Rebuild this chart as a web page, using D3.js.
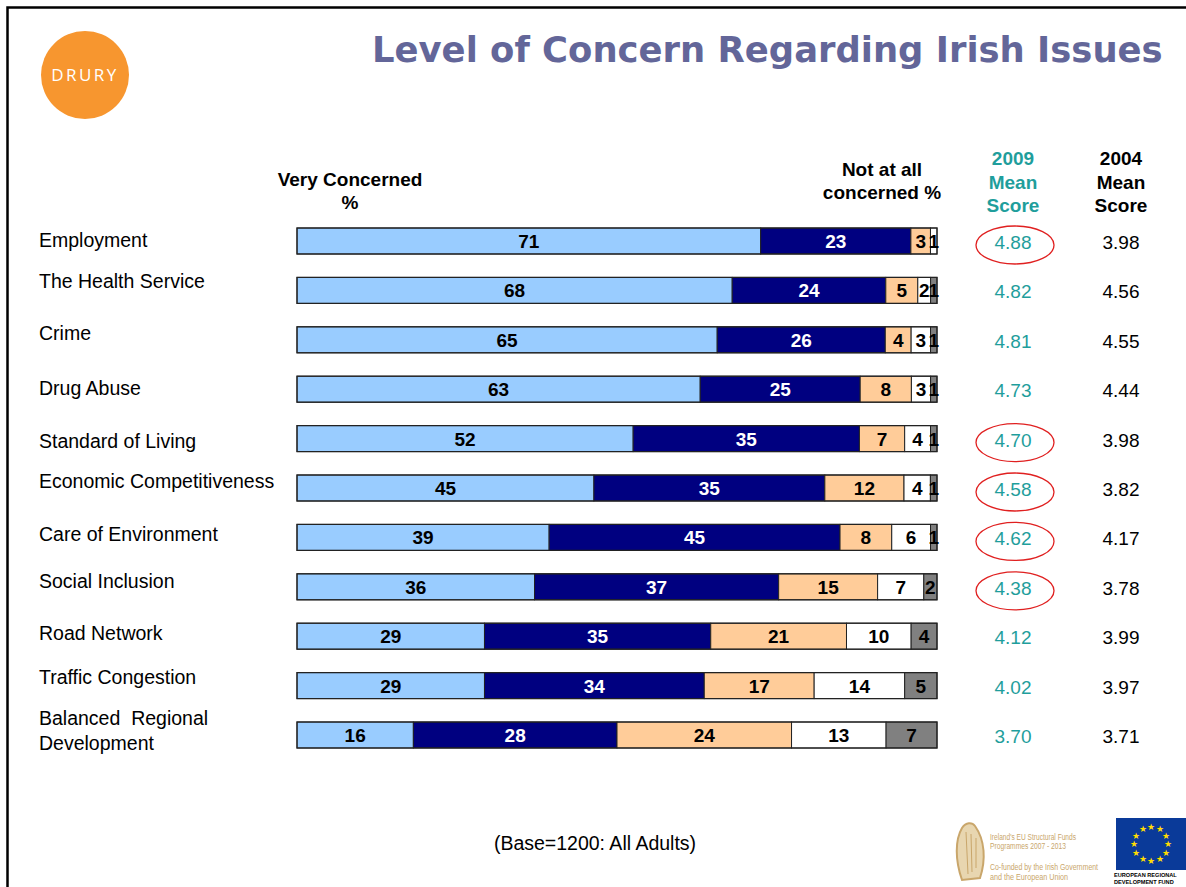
<!DOCTYPE html>
<html><head><meta charset="utf-8">
<script src="https://cdn.jsdelivr.net/npm/d3@7"></script>
<style>
html,body{margin:0;padding:0;background:#fff;}
svg{display:block;}
</style></head>
<body>
<svg id="chart" width="1186" height="887"></svg>
<script>
// ---------- DATA ----------
const categories = ["Employment","The Health Service","Crime","Drug Abuse","Standard of Living",
  "Economic Competitiveness","Care of Environment","Social Inclusion","Road Network",
  "Traffic Congestion","Balanced  Regional|Development"];
const veryConcerned   = [71,68,65,63,52,45,39,36,29,29,16];
const fairlyConcerned = [23,24,26,25,35,35,45,37,35,34,28];
const neutral         = [3,5,4,8,7,12,8,15,21,17,24];
const notVery         = [1,2,3,3,4,4,6,7,10,14,13];
const notAtAll        = [0,1,1,1,1,1,1,2,4,5,7];
const mean2009 = ["4.88","4.82","4.81","4.73","4.70","4.58","4.62","4.38","4.12","4.02","3.70"];
const mean2004 = ["3.98","4.56","4.55","4.44","3.98","3.82","4.17","3.78","3.99","3.97","3.71"];
const circled2009 = [true,false,false,false,true,true,true,true,false,false,false];
const seriesColors = ["#99ccff","#000080","#ffcc99","#ffffff","#808080"];
const labelColors  = ["#000","#fff","#000","#000","#000"];

// ---------- LAYOUT ----------
const svg = d3.select("#chart");
const FONT = "Arial, 'Liberation Sans', sans-serif";
const teal = "#1f9e9c";
// vertical nudges of the category labels relative to their bars (layout only)
const labelShift = [7,-1,1,7,10,1,5,2,5,-1,4];

// page border
svg.append("path").attr("d","M7.5,887 V7.5 H1190").attr("fill","none")
  .attr("stroke","#000").attr("stroke-width",2.5);

// logo
svg.append("circle").attr("cx",85).attr("cy",75).attr("r",44).attr("fill","#f7962f");
svg.append("text").attr("x",85).attr("y",81).attr("text-anchor","middle")
  .attr("font-family","'Open Sans', sans-serif").attr("font-weight",400)
  .attr("font-size",17).attr("letter-spacing",2.5).attr("fill","#fff").text("DRURY");

// title
const title = svg.append("text").attr("x",372).attr("y",62)
  .attr("font-family","Tahoma, 'DejaVu Sans', sans-serif").attr("font-weight","bold")
  .attr("font-size",36).attr("fill","#636699")
  .text("Level of Concern Regarding Irish Issues");
{
  const w = title.node().getComputedTextLength();
  title.attr("font-size", 36*791/w);
}

// scales
const x = d3.scaleLinear().domain([0,1]).range([297,937]);
const y = d3.scalePoint().domain(categories).range([241,735]);
const barH = 26;

// headers
function multiline(xc, lines, y0, dy, color, weight, anchor){
  const t = svg.append("text").attr("font-family",FONT).attr("font-size",19)
    .attr("font-weight",weight).attr("fill",color).attr("text-anchor",anchor||"middle");
  lines.forEach((l,i)=>t.append("tspan").attr("x",xc).attr("y",y0+i*dy).text(l));
  return t;
}
multiline(350,["Very Concerned","%"],186,23,"#000","bold");
multiline(882,["Not at all","concerned %"],176,23,"#000","bold");
multiline(1013,["2009","Mean","Score"],165,23.5,teal,"bold");
multiline(1121,["2004","Mean","Score"],165,23.5,"#000","bold");

// rows
const series = [veryConcerned,fairlyConcerned,neutral,notVery,notAtAll];
categories.forEach((cat,i)=>{
  const vals = series.map(s=>s[i]);
  const total = d3.sum(vals);
  const cy = y(cat);
  const g = svg.append("g");
  let cum = 0;
  const segs = vals.map((v,k)=>{ const s={k,v,x0:cum/total,x1:(cum+v)/total}; cum+=v; return s; });
  g.selectAll("rect").data(segs.filter(s=>s.v>0)).join("rect")
    .attr("x",d=>x(d.x0)).attr("width",d=>x(d.x1)-x(d.x0))
    .attr("y",cy-barH/2).attr("height",barH)
    .attr("fill",d=>seriesColors[d.k]).attr("stroke","#222").attr("stroke-width",1);
  g.append("rect").attr("x",x(0)).attr("width",x(1)-x(0)).attr("y",cy-barH/2).attr("height",barH)
    .attr("fill","none").attr("stroke","#222").attr("stroke-width",1.2);
  g.selectAll("text.v").data(segs.filter(s=>s.v>0)).join("text").attr("class","v")
    .attr("x",d=>(x(d.x0)+x(d.x1))/2).attr("y",cy+7)
    .attr("text-anchor","middle").attr("font-family",FONT).attr("font-weight","bold")
    .attr("font-size",19).attr("fill",d=>labelColors[d.k]).text(d=>d.v);
  // category label
  const parts = cat.split("|");
  const ly = (parts.length>1 ? cy-17 : cy-4) + labelShift[i] + 3;
  const lt = svg.append("text").attr("font-family",FONT).attr("font-size",19.5).attr("fill","#000");
  parts.forEach((p,j)=>lt.append("tspan").attr("x",39).attr("y",ly+j*25).style("white-space","pre").text(p));
  // mean scores
  svg.append("text").attr("x",1013).attr("y",cy+8).attr("text-anchor","middle")
    .attr("font-family",FONT).attr("font-size",19).attr("fill",teal).text(mean2009[i]);
  svg.append("text").attr("x",1121).attr("y",cy+8).attr("text-anchor","middle")
    .attr("font-family",FONT).attr("font-size",19).attr("fill","#000").text(mean2004[i]);
  if(circled2009[i]){
    svg.append("ellipse").attr("cx",1015).attr("cy",cy+4).attr("rx",39).attr("ry",19)
      .attr("fill","none").attr("stroke","#e02020").attr("stroke-width",1.3);
  }
});

// footer
svg.append("text").attr("x",595).attr("y",850).attr("text-anchor","middle")
  .attr("font-family",FONT).attr("font-size",19.5).attr("fill","#000").text("(Base=1200: All Adults)");

// bottom-right logos
const gold = "#c9a66b";
svg.append("path").attr("d","M962,880 C955,860 955,840 962,828 C966,822 972,822 975,826 C985,840 986,860 980,878 Z")
  .attr("fill","#e8d6b0").attr("stroke",gold).attr("stroke-width",2);
svg.append("path").attr("d","M966,832 L968,874 M971,834 L972,872 M976,838 L976,868")
  .attr("stroke",gold).attr("stroke-width",1);
const ftxt = [["Ireland's EU Structural Funds",840,86],["Programmes 2007 - 2013",849,76],
              ["Co-funded by the Irish Government",870,108],["and the European Union",880,78]];
ftxt.forEach(([t,yy,len])=>svg.append("text").attr("x",990).attr("y",yy)
  .attr("font-family","'Liberation Sans Narrow', Arial, sans-serif").attr("font-size",8.5)
  .attr("textLength",len).attr("lengthAdjust","spacingAndGlyphs")
  .attr("fill",gold).text(t));
svg.append("rect").attr("x",1116).attr("y",818).attr("width",80).attr("height",52).attr("fill","#0a3a99");
d3.range(12).forEach(k=>{
  const a = k*Math.PI/6;
  svg.append("text").attr("x",1151+17*Math.sin(a)).attr("y",844-17*Math.cos(a)+3)
    .attr("text-anchor","middle").attr("font-size",9).attr("fill","#ffdd00").text("★");
});
svg.append("text").attr("x",1114).attr("y",877).attr("font-family",FONT).attr("font-weight","bold")
  .attr("font-size",5.6).attr("fill","#000").text("EUROPEAN REGIONAL");
svg.append("text").attr("x",1114).attr("y",884).attr("font-family",FONT).attr("font-weight","bold")
  .attr("font-size",5.6).attr("fill","#000").text("DEVELOPMENT FUND");
</script>
</body></html>
